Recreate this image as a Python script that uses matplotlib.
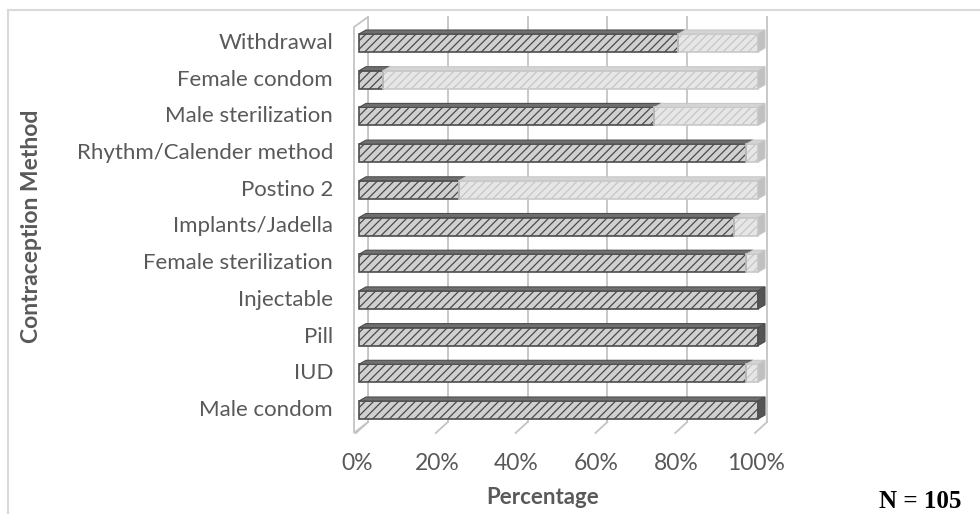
import numpy as np
import matplotlib
matplotlib.use('Agg')
import matplotlib.pyplot as plt
from matplotlib.patches import Polygon, Rectangle
from matplotlib.lines import Line2D

# data (bottom to top)
methods = ['Male condom', 'IUD', 'Pill', 'Injectable', 'Female sterilization',
           'Implants/Jadella', 'Postino 2', 'Rhythm/Calender method',
           'Male sterilization', 'Female condom', 'Withdrawal']
yes_pct = [100, 97, 100, 100, 97, 94, 25, 97, 74, 6, 80]
no_pct = [0, 3, 0, 0, 3, 6, 75, 3, 26, 94, 20]
xticks = [0, 20, 40, 60, 80, 100]
xtick_labels = ['0%', '20%', '40%', '60%', '80%', '100%']

plt.rcParams['font.family'] = ['Lato', 'DejaVu Sans']
plt.rcParams['hatch.linewidth'] = 0.9
txt = '#595959'

W, H = 980, 514
fig = plt.figure(figsize=(W / 100, H / 100), dpi=100)

# pixel layout of the plot: x 0..100 -> px 359..758, bar i centre at py 410 - 36.7*i
x0, x1 = 359, 758
ystep = 36.7
yc0 = 410
bot = yc0 + 0.5 * ystep
top = yc0 - 10.5 * ystep
ax = fig.add_axes([x0 / W, (H - bot) / H, (x1 - x0) / W, (bot - top) / H])
ax.set_xlim(0, 100)
ax.set_ylim(-0.5, 10.5)
ax.axis('off')

DX = 100 / (x1 - x0)   # data units per pixel
DY = 1 / ystep


def py(p):
    return (yc0 - p) / ystep


# back wall gridlines + floor ticks
grid_c = '#c4c4c4'
for v in xticks:
    ax.plot([v + 9 * DX, v + 9 * DX], [py(422), py(17)], color=grid_c, lw=1.3,
            clip_on=False, zorder=1)
    ax.plot([v - 3 * DX, v + 9 * DX], [py(433), py(422)], color=grid_c, lw=1.3,
            clip_on=False, zorder=1)

# left wall
wall = Polygon([(-5 * DX, py(27)), (9 * DX, py(17)), (9 * DX, py(422)), (-5 * DX, py(433))],
               closed=True, facecolor='white', edgecolor=grid_c, lw=1.3,
               clip_on=False, zorder=1)
ax.add_patch(wall)

# bars
bh = 18 * DY
ddx, ddy = 7 * DX, 4 * DY
dark = dict(face='#d0d0d0', hatch='#4a4a4a', edge='#4d4d4d', top='#6f6f6f', side='#555555')
light = dict(face='#e6e6e6', hatch='#c6c6c6', edge='#c8c8c8', top='#d4d4d4', side='#c0c0c0')


def seg(left, width, y, st, last):
    if width <= 0:
        return
    yb = y - bh / 2
    ax.add_patch(Rectangle((left, yb), width, bh, facecolor=st['face'], edgecolor='none',
                           clip_on=False, zorder=3))
    ax.add_patch(Rectangle((left, yb), width, bh, facecolor='none', edgecolor=st['hatch'],
                           hatch='////', lw=0, clip_on=False, zorder=3))
    ax.add_patch(Rectangle((left, yb), width, bh, facecolor='none', edgecolor=st['edge'],
                           lw=1.2, clip_on=False, zorder=4))
    ax.add_patch(Polygon([(left, yb + bh), (left + ddx, yb + bh + ddy),
                          (left + width + ddx, yb + bh + ddy), (left + width, yb + bh)],
                         closed=True, facecolor=st['top'], edgecolor=st['edge'], lw=0.8,
                         clip_on=False, zorder=4))
    if last:
        r = left + width
        ax.add_patch(Polygon([(r, yb), (r + ddx, yb + ddy), (r + ddx, yb + bh + ddy), (r, yb + bh)],
                             closed=True, facecolor=st['side'], edgecolor=st['edge'], lw=0.8,
                             clip_on=False, zorder=4))


for i, m in enumerate(methods):
    y = i
    seg(0, yes_pct[i], y, dark, no_pct[i] == 0)
    seg(yes_pct[i], no_pct[i], y, light, True)
    ax.text(-26 * DX, y, m, ha='right', va='center', fontsize=16, color=txt)

for v, lab in zip(xticks, xtick_labels):
    ax.text(v - 2 * DX, py(463), lab, ha='center', va='center', fontsize=16.5, color=txt)

ax.text((543 - x0) * DX, py(497), 'Percentage', ha='center', va='center',
        fontsize=16, fontweight='bold', color=txt)
fig.text(32 / W, 1 - 226 / H, 'Contraception Method', rotation=90, ha='center', va='center',
         fontsize=16.5, fontweight='bold', color=txt)
fig.text(920 / W, 1 - 502 / H, 'N = 105', ha='center', va='center',
         fontsize=18, fontweight='bold', family='Liberation Serif', color='black')

# outer chart frame (cropped at right and bottom)
fc = '#d9d9d9'
fig.add_artist(Line2D([8 / W, 1], [1 - 10 / H, 1 - 10 / H], transform=fig.transFigure,
                      color=fc, lw=1.5))
fig.add_artist(Line2D([8 / W, 8 / W], [0, 1 - 10 / H], transform=fig.transFigure,
                      color=fc, lw=1.5))

fig.savefig('out.png', dpi=100)
